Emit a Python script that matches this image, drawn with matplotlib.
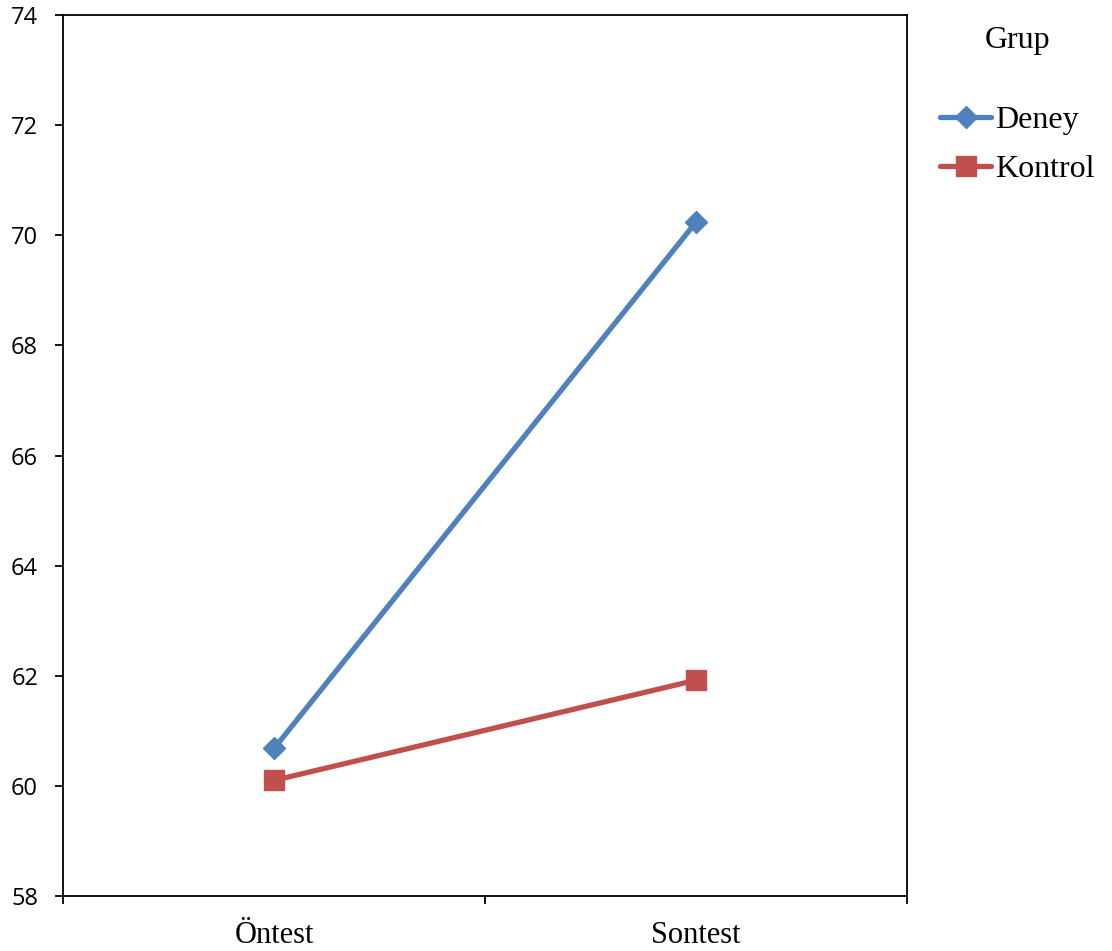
import matplotlib
matplotlib.use("Agg")
import matplotlib.pyplot as plt

# data
categories = ["Öntest", "Sontest"]
deney = [60.68, 70.24]
kontrol = [60.10, 61.92]
series_names = ["Deney", "Kontrol"]
yticks = [58, 60, 62, 64, 66, 68, 70, 72, 74]

blue = "#4F81BD"
red = "#C0504D"

fig = plt.figure(figsize=(11.12, 9.51), dpi=100)
ax = fig.add_axes([0.0567, 0.0578, 0.759, 0.9264])

xpos = [i + 0.5 for i in range(len(categories))]
ax.plot(xpos, deney, color=blue, lw=3.8, marker="D", ms=11,
        solid_capstyle="round", label=series_names[0])
ax.plot(xpos, kontrol, color=red, lw=3.8, marker="s", ms=14,
        solid_capstyle="round", label=series_names[1])

ax.set_xlim(0, len(categories))
ax.set_ylim(58, 74)
ax.set_yticks(yticks)
ax.set_yticklabels([str(t) for t in yticks], fontsize=17, family="Open Sans")
ax.set_xticks(range(len(categories) + 1))
ax.set_xticklabels([])
ax.set_xticks(xpos, minor=True)
ax.set_xticklabels(categories, minor=True, fontsize=22, family="Liberation Serif")
ax.tick_params(axis="x", which="minor", length=0, pad=18)
ax.tick_params(axis="both", which="major", direction="out", length=6, width=1.3)
ax.tick_params(axis="y", pad=12)
for s in ax.spines.values():
    s.set_linewidth(1.3)

leg = ax.legend(title="Grup", loc="upper left", bbox_to_anchor=(1.039, 0.987),
                frameon=False, prop={"family": "Liberation Serif", "size": 23},
                title_fontproperties={"family": "Liberation Serif", "size": 23},
                handlelength=1.6, handletextpad=0.12, labelspacing=0.62,
                borderpad=0, borderaxespad=0)
leg._legend_box.sep = 36

fig.savefig("out.png", dpi=100)
